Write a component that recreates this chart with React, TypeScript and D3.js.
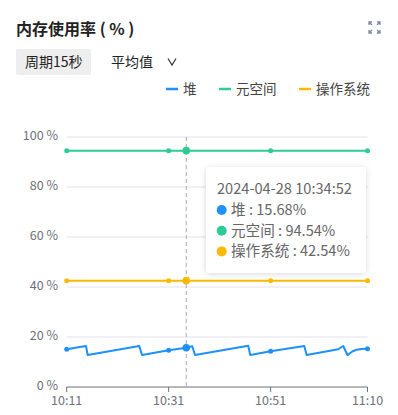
import React from "react";
import * as d3 from "d3";

const DATE = "2024-04-28";
const START = "10:11:25";
const END = "11:10:25";
const tickTimes = ["10:11:25", "10:31:25", "10:51:25", "11:10:25"];
const yTicks = [0, 20, 40, 60, 80, 100];

const heapTimes = [
  "10:11:25", "10:15:12", "10:15:32", "10:25:39", "10:26:11", "10:31:25",
  "10:34:52", "10:36:03", "10:36:35", "10:47:01", "10:47:25", "10:51:25",
  "10:58:01", "10:58:29", "11:04:40", "11:05:39", "11:06:31", "11:06:58",
  "11:07:30", "11:08:17", "11:09:15", "11:10:25",
];
const heapValues = [
  15.1, 16.4, 12.8, 16.4, 12.8, 14.7,
  15.68, 16.3, 12.8, 16.5, 12.8, 14.3,
  16.4, 12.8, 15.1, 16.4, 12.7, 13.5,
  14.3, 14.9, 15.2, 15.3,
];
const metaTimes = ["10:11:25", "10:31:25", "10:34:52", "10:51:25", "11:10:25"];
const metaValues = [94.54, 94.54, 94.54, 94.54, 94.54];
const osTimes = ["10:11:25", "10:31:25", "10:34:52", "10:51:25", "11:10:25"];
const osValues = [42.54, 42.54, 42.54, 42.54, 42.54];

const hoverTime = "10:34:52";
const seriesNames = ["堆", "元空间", "操作系统"];
const seriesColors = ["#1e90ff", "#2ecb94", "#fbb900"];
const hoverValues = ["15.68%", "94.54%", "42.54%"];

const parse = (t: string) => new Date(`${DATE}T${t}`);

export default function App() {
  const W = 398, H = 415;
  const x = d3.scaleTime().domain([parse(START), parse(END)]).range([66.7, 367.5]);
  const y = d3.scaleLinear().domain([0, 100]).range([387, 137]);
  const fmt = d3.timeFormat("%H:%M");
  const font = "'Noto Sans CJK SC', 'Noto Sans', sans-serif";

  const mk = (times: string[], vals: number[]) =>
    times.map((t, i) => ({ t: parse(t), v: vals[i] }));
  const series = [mk(heapTimes, heapValues), mk(metaTimes, metaValues), mk(osTimes, osValues)];
  const line = d3
    .line<{ t: Date; v: number }>()
    .x((d) => x(d.t))
    .y((d) => y(d.v));
  const hx = x(parse(hoverTime));
  const ticks = tickTimes.map(parse);

  const legendX = [166, 219, 299];

  return (
    <svg
      width={W}
      height={H}
      style={{ position: "absolute", left: 0, top: 0, fontFamily: font }}
    >
      <defs>
        <filter id="sh" x="-20%" y="-20%" width="140%" height="140%">
          <feDropShadow dx="0" dy="1" stdDeviation="3" floodColor="#000" floodOpacity="0.15" />
        </filter>
      </defs>
      <rect width={W} height={H} fill="#fff" />
      <text x={16} y={35} fontSize={16} fontWeight="bold" fill="#222">
        内存使用率 ( % )
      </text>
      {/* expand icon */}
      <g stroke="#7a8aa6" strokeWidth={1.3} fill="none">
        <path d="M369,25 L369,22 L372,22 M369,22 L372,25" />
        <path d="M380,25 L380,22 L377,22 M380,22 L377,25" />
        <path d="M369,30 L369,33 L372,33 M369,33 L372,30" />
        <path d="M380,30 L380,33 L377,33 M380,33 L377,30" />
      </g>
      <rect x={16} y={49} width={75} height={26} rx={2} fill="#eeeeee" />
      <text x={25} y={67} fontSize={14} fill="#222">
        周期15秒
      </text>
      <text x={111} y={67} fontSize={14} fill="#222">
        平均值
      </text>
      <path d="M168,58.5 L172,65 L176,58.5" stroke="#333" strokeWidth={1.2} fill="none" />
      {/* legend */}
      {seriesNames.map((n, i) => (
        <g key={n}>
          <line x1={legendX[i]} x2={legendX[i] + 12} y1={89} y2={89} stroke={seriesColors[i]} strokeWidth={2.5} />
          <text x={legendX[i] + 17} y={94} fontSize={13.5} fill="#444">
            {n}
          </text>
        </g>
      ))}
      {/* grid */}
      {yTicks.map((v) => (
        <g key={v}>
          {v > 0 && <line x1={66.7} x2={367.5} y1={y(v)} y2={y(v)} stroke="#e0e3ee" strokeWidth={1} />}
          <text x={58} y={y(v) + 3} fontSize={12.5} fill="#6e7079" textAnchor="end">
            {v} %
          </text>
        </g>
      ))}
      <line x1={66.7} x2={367.5} y1={387} y2={387} stroke="#6e7079" strokeWidth={1} />
      {ticks.map((t, i) => (
        <g key={i}>
          <line x1={x(t)} x2={x(t)} y1={387} y2={392} stroke="#6e7079" />
          <text x={x(t)} y={404.5} fontSize={12.5} fill="#6e7079" textAnchor="middle">
            {fmt(t)}
          </text>
        </g>
      ))}
      {/* crosshair */}
      <line x1={hx} x2={hx} y1={137} y2={387} stroke="#a7abb8" strokeDasharray="4,3" strokeWidth={1} />
      {/* lines */}
      {series.map((s, i) => (
        <g key={i}>
          <path d={line(s) || ""} fill="none" stroke={seriesColors[i]} strokeWidth={2} strokeLinejoin="round" />
          {s
            .filter((d) => ticks.some((t) => +t === +d.t) || +d.t === +parse(hoverTime))
            .map((d, j) => (
              <circle
                key={j}
                cx={x(d.t)}
                cy={y(d.v)}
                r={+d.t === +parse(hoverTime) ? 3.8 : 2.5}
                fill={seriesColors[i]}
              />
            ))}
        </g>
      ))}
      {/* tooltip */}
      <g>
        <rect x={206} y={167} width={160} height={106} rx={4} fill="#fff" filter="url(#sh)" />
        <text x={217} y={194} fontSize={14.6} fill="#666">
          {DATE} {hoverTime}
        </text>
        {seriesNames.map((n, i) => (
          <g key={n}>
            <circle cx={221.7} cy={210 + i * 20.7} r={5} fill={seriesColors[i]} />
            <text x={231} y={215 + i * 20.7} fontSize={14.6} fill="#666">
              {n} : {hoverValues[i]}
            </text>
          </g>
        ))}
      </g>
    </svg>
  );
}
